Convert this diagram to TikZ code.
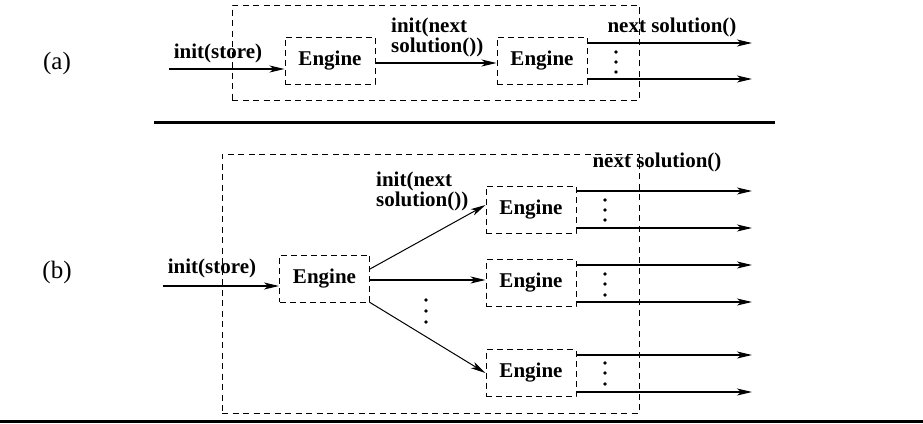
\documentclass[tikz,border=0pt]{standalone}
\usepackage{fontspec}
\newfontfamily\tb{Liberation Serif}
\usetikzlibrary{arrows.meta,calc}
\begin{document}
\begin{tikzpicture}[x=1pt,y=-1pt,
  outer/.style={draw, dash pattern=on 6pt off 4.5pt, line width=1pt, inner sep=0pt},
  engine/.style={draw, dash pattern=on 6pt off 4pt, line width=1pt, minimum width=90pt, minimum height=47pt, inner sep=0pt, font=\tb\bfseries\fontsize{21}{20}\selectfont},
  arr/.style={-{Stealth[length=15pt,width=7pt,inset=4pt]}, line width=1.3pt},
  lbl/.style={font=\tb\bfseries\fontsize{21}{20}\selectfont, inner sep=0pt, align=left},
  part/.style={font=\tb\fontsize{25}{26}\selectfont, inner sep=0pt},
  dotsn/.style={circle, fill, inner sep=0pt, minimum size=3.8pt},
  rulel/.style={line width=3pt}
]
\useasboundingbox (0,0) rectangle (923,423);

% ---------- (a) ----------
\node[part] (pa) at (57,63) {(a)};
\node[outer, minimum width=407pt, minimum height=95pt] (OA) at (435.5,52.5) {};
\node[engine] (A1) at (330,60.5) {Engine};
\node[engine] (A2) at (542,60.5) {Engine};
\node[lbl] (ainit) at (218,53) {init(store)};
\node[lbl, anchor=west] (anext) at (391,37) {init(next\\solution())};
\node[lbl] (asol) at (672,27) {next solution()};

\coordinate (ain) at (169,69);
\draw[arr] (ain) -- (ain -| A1.west);
\draw[arr] (A1.east |- 0,63) -- (A2.west |- 0,63);
\coordinate (ao1) at (752,43);
\coordinate (ao2) at (752,79);
\draw[arr] (A2.east |- ao1) -- (ao1);
\draw[arr] (A2.east |- ao2) -- (ao2);
\foreach \n/\y in {ad1/52, ad2/62, ad3/72} \node[dotsn] (\n) at (616,\y) {};

% separator
\coordinate (s1) at (154,122);
\coordinate (s2) at (775,122);
\draw[rulel] (s1) -- (s2);

% ---------- (b) ----------
\node[part] (pb) at (57,272) {(b)};
\node[outer, minimum width=417pt, minimum height=259pt] (OB) at (430.5,283.5) {};
\node[engine] (B1) at (324.5,278.5) {Engine};
\node[engine] (B2) at (531,209.5) {Engine};
\node[engine] (B3) at (531,283) {Engine};
\node[engine] (B4) at (531,373) {Engine};
\node[lbl] (binit) at (212,268) {init(store)};
\node[lbl, anchor=west] (bnext) at (376,191) {init(next\\solution())};
\node[lbl] (bsol) at (657,162) {next solution()};

\coordinate (bin) at (163,286);
\draw[arr] (bin) -- (bin -| B1.west);
\draw[arr, line width=1pt] (B1.east |- 0,269) -- (B2.west |- 0,205);
\draw[arr] (B1.east |- 0,280) -- (B3.west |- 0,280);
\draw[arr, line width=1pt] (B1.south east) -- (B4.west |- 0,373);
\foreach \n/\y in {md1/300, md2/311, md3/322} \node[dotsn] (\n) at (426,\y) {};

\coordinate (bo1) at (752,191);
\coordinate (bo2) at (752,228);
\coordinate (bo3) at (752,265);
\coordinate (bo4) at (752,302);
\coordinate (bo5) at (752,355);
\coordinate (bo6) at (752,392);
\draw[arr] (B2.east |- bo1) -- (bo1);
\draw[arr] (B2.east |- bo2) -- (bo2);
\draw[arr] (B3.east |- bo3) -- (bo3);
\draw[arr] (B3.east |- bo4) -- (bo4);
\draw[arr] (B4.east |- bo5) -- (bo5);
\draw[arr] (B4.east |- bo6) -- (bo6);
\foreach \n/\y in {bd1/200, bd2/210, bd3/220, bd4/274, bd5/284, bd6/295, bd7/363, bd8/373, bd9/384} \node[dotsn] (\n) at (605,\y) {};

% bottom rule
\coordinate (r1) at (0,421.5);
\coordinate (r2) at (923,421.5);
\draw[rulel] (r1) -- (r2);
\end{tikzpicture}
\end{document}
